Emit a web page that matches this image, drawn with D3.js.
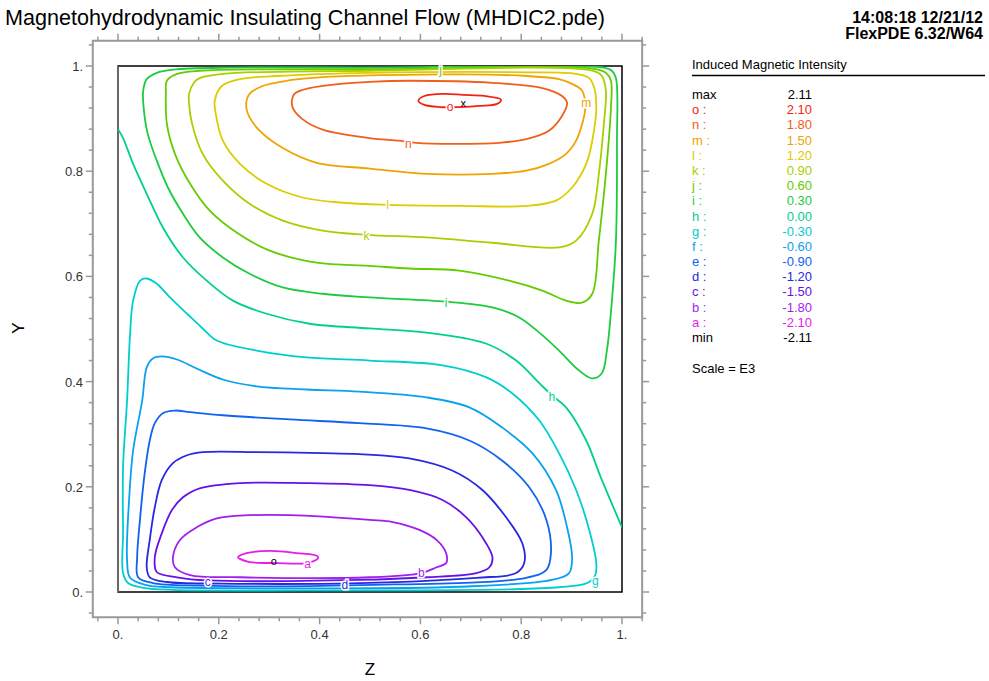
<!DOCTYPE html>
<html>
<head>
<meta charset="utf-8">
<script src="https://cdn.jsdelivr.net/npm/d3@7"></script>
<style>
body { margin: 0; background: #fff; }
svg { display: block; font-family: "Liberation Sans", Arial, sans-serif; }
</style>
</head>
<body>
<svg id="svg1" width="989" height="681"></svg>
<script>
// contour levels (values x 1E3)
var levelNames = ['a','b','c','d','e','f','g','h','i','j','k','l','m','n','o'];
var levelValues = [-2.10,-1.80,-1.50,-1.20,-0.90,-0.60,-0.30,0.00,0.30,0.60,0.90,1.20,1.50,1.80,2.10];

// contour lines, [z, y]
var lineO = [[0.596,0.934],[0.608,0.943],[0.648,0.947],[0.685,0.945],[0.727,0.943],[0.760,0.936],[0.752,0.928],[0.717,0.924],[0.677,0.922],[0.638,0.922],[0.608,0.926]];
var lineN = [[0.345,0.934],[0.350,0.947],[0.380,0.958],[0.440,0.966],[0.499,0.970],[0.578,0.972],[0.743,0.968],[0.842,0.958],[0.881,0.943],[0.891,0.930],[0.881,0.905],[0.855,0.877],[0.810,0.861],[0.756,0.854],[0.663,0.852],[0.592,0.854],[0.558,0.858],[0.499,0.863],[0.406,0.879],[0.366,0.899],[0.347,0.920]];
var lineM = [[0.255,0.934],[0.261,0.947],[0.287,0.962],[0.341,0.973],[0.406,0.979],[0.499,0.982],[0.677,0.984],[0.810,0.981],[0.875,0.975],[0.901,0.966],[0.921,0.953],[0.927,0.920],[0.921,0.890],[0.909,0.858],[0.889,0.833],[0.855,0.814],[0.810,0.801],[0.743,0.795],[0.612,0.795],[0.499,0.805],[0.394,0.816],[0.327,0.844],[0.281,0.877],[0.257,0.911]];
var lineL = [[0.192,0.934],[0.206,0.962],[0.242,0.975],[0.315,0.981],[0.499,0.987],[0.810,0.988],[0.909,0.985],[0.935,0.977],[0.945,0.958],[0.949,0.920],[0.941,0.858],[0.929,0.814],[0.901,0.769],[0.869,0.744],[0.810,0.734],[0.677,0.734],[0.535,0.736],[0.446,0.740],[0.366,0.750],[0.295,0.776],[0.242,0.814],[0.208,0.858],[0.194,0.909]];
var lineK = [[0.141,0.947],[0.152,0.970],[0.162,0.977],[0.208,0.985],[0.499,0.991],[0.941,0.991],[0.960,0.981],[0.968,0.953],[0.964,0.890],[0.954,0.795],[0.941,0.719],[0.909,0.668],[0.875,0.655],[0.743,0.664],[0.612,0.674],[0.493,0.679],[0.406,0.687],[0.327,0.706],[0.261,0.738],[0.208,0.782],[0.168,0.833],[0.147,0.890],[0.141,0.928]];
var lineJ = [[0.095,0.947],[0.097,0.972],[0.117,0.985],[0.162,0.991],[0.499,0.994],[0.941,0.995],[0.968,0.987],[0.978,0.972],[0.978,0.920],[0.968,0.795],[0.954,0.668],[0.941,0.567],[0.921,0.550],[0.889,0.554],[0.842,0.573],[0.776,0.592],[0.677,0.611],[0.578,0.615],[0.499,0.620],[0.394,0.626],[0.301,0.649],[0.236,0.683],[0.182,0.725],[0.143,0.776],[0.113,0.833],[0.097,0.890]];
var lineI = [[0.050,0.953],[0.057,0.975],[0.077,0.987],[0.109,0.993],[0.222,0.997],[0.499,0.997],[0.964,0.997],[0.980,0.991],[0.988,0.977],[0.990,0.858],[0.988,0.668],[0.980,0.554],[0.970,0.459],[0.960,0.416],[0.941,0.406],[0.915,0.421],[0.875,0.459],[0.836,0.493],[0.796,0.522],[0.743,0.541],[0.651,0.552],[0.499,0.560],[0.406,0.567],[0.327,0.579],[0.261,0.605],[0.208,0.636],[0.162,0.674],[0.129,0.719],[0.099,0.769],[0.077,0.820],[0.059,0.871],[0.051,0.920]];
var lineH = [[0.000,0.880],[0.010,0.863],[0.030,0.814],[0.057,0.757],[0.089,0.693],[0.129,0.636],[0.176,0.592],[0.228,0.554],[0.295,0.529],[0.380,0.510],[0.499,0.501],[0.612,0.493],[0.731,0.472],[0.790,0.440],[0.836,0.397],[0.861,0.374],[0.889,0.351],[0.929,0.288],[0.960,0.213],[1.000,0.123]];
var lineG = [[0.050,0.008],[0.020,0.017],[0.010,0.036],[0.010,0.112],[0.010,0.237],[0.018,0.364],[0.024,0.491],[0.030,0.554],[0.044,0.592],[0.057,0.596],[0.077,0.586],[0.103,0.560],[0.137,0.529],[0.168,0.501],[0.196,0.478],[0.275,0.459],[0.374,0.446],[0.499,0.440],[0.644,0.431],[0.731,0.408],[0.782,0.378],[0.836,0.326],[0.875,0.264],[0.909,0.194],[0.935,0.118],[0.949,0.055],[0.947,0.032],[0.931,0.017],[0.875,0.009],[0.776,0.005],[0.360,0.003],[0.109,0.004]];
var lineF = [[0.057,0.013],[0.024,0.027],[0.018,0.061],[0.022,0.175],[0.030,0.269],[0.048,0.364],[0.057,0.427],[0.069,0.444],[0.087,0.448],[0.117,0.442],[0.156,0.425],[0.208,0.404],[0.275,0.391],[0.374,0.385],[0.479,0.381],[0.612,0.370],[0.697,0.351],[0.762,0.313],[0.822,0.264],[0.869,0.194],[0.891,0.123],[0.901,0.066],[0.895,0.036],[0.861,0.023],[0.677,0.010],[0.360,0.007],[0.103,0.009]];
var lineE = [[0.069,0.017],[0.040,0.028],[0.038,0.066],[0.044,0.142],[0.053,0.226],[0.063,0.288],[0.073,0.321],[0.089,0.340],[0.113,0.345],[0.143,0.342],[0.208,0.336],[0.341,0.328],[0.479,0.321],[0.612,0.311],[0.697,0.288],[0.762,0.250],[0.816,0.199],[0.850,0.137],[0.859,0.074],[0.850,0.042],[0.810,0.027],[0.479,0.013],[0.162,0.012]];
var lineD = [[0.097,0.019],[0.063,0.028],[0.057,0.047],[0.063,0.099],[0.073,0.161],[0.087,0.213],[0.109,0.245],[0.137,0.260],[0.168,0.266],[0.275,0.266],[0.406,0.264],[0.479,0.262],[0.578,0.254],[0.663,0.231],[0.723,0.194],[0.770,0.142],[0.802,0.093],[0.806,0.055],[0.790,0.036],[0.711,0.027],[0.479,0.017],[0.202,0.016]];
var lineC = [[0.117,0.028],[0.077,0.038],[0.073,0.066],[0.087,0.112],[0.107,0.156],[0.129,0.180],[0.162,0.197],[0.242,0.207],[0.374,0.207],[0.499,0.203],[0.578,0.194],[0.644,0.175],[0.691,0.142],[0.723,0.104],[0.743,0.066],[0.737,0.047],[0.711,0.036],[0.612,0.028],[0.479,0.023],[0.178,0.022]];
var lineB = [[0.109,0.066],[0.113,0.047],[0.143,0.032],[0.242,0.028],[0.499,0.028],[0.602,0.036],[0.632,0.047],[0.651,0.055],[0.651,0.074],[0.632,0.099],[0.598,0.118],[0.545,0.133],[0.499,0.137],[0.341,0.146],[0.261,0.146],[0.196,0.140],[0.156,0.123],[0.123,0.099]];
var lineA = [[0.238,0.066],[0.255,0.074],[0.301,0.078],[0.354,0.074],[0.396,0.068],[0.396,0.063],[0.374,0.055],[0.315,0.055],[0.261,0.057],[0.242,0.063]];

// where the level letters sit on the lines
var labelNames = ['o','n','m','l','k','j','i','h','g','d','c','b','a'];
var labelPos = [[0.659,0.922],[0.576,0.852],[0.929,0.930],[0.535,0.736],[0.493,0.677],[0.640,0.993],[0.651,0.550],[0.861,0.372],[0.947,0.021],[0.450,0.014],[0.178,0.020],[0.602,0.036],[0.376,0.053]];
var maxPoint = [0.685, 0.930];
var minPoint = [0.309, 0.059];

var tickLabels = ['0.','0.2','0.4','0.6','0.8','1.'];
var tickValues = [0, 0.2, 0.4, 0.6, 0.8, 1.0];

var legendNames = ['max','o :','n :','m :','l :','k :','j :','i :','h :','g :','f :','e :','d :','c :','b :','a :','min'];
var legendValues = ['2.11','2.10','1.80','1.50','1.20','0.90','0.60','0.30','0.00','-0.30','-0.60','-0.90','-1.20','-1.50','-1.80','-2.10','-2.11'];

var contourLines = [
    {name:'a', pts:lineA, closed:true}, {name:'b', pts:lineB, closed:true},
    {name:'c', pts:lineC, closed:true}, {name:'d', pts:lineD, closed:true},
    {name:'e', pts:lineE, closed:true}, {name:'f', pts:lineF, closed:true},
    {name:'g', pts:lineG, closed:true}, {name:'h', pts:lineH, closed:false},
    {name:'i', pts:lineI, closed:true}, {name:'j', pts:lineJ, closed:true},
    {name:'k', pts:lineK, closed:true}, {name:'l', pts:lineL, closed:true},
    {name:'m', pts:lineM, closed:true}, {name:'n', pts:lineN, closed:true},
    {name:'o', pts:lineO, closed:true}
];

var color = d3.scaleOrdinal()
    .domain(levelNames)
    .range(['#e81ce8','#a01ef0','#6612e6','#2828e0','#1062f0','#08a2f0','#00cece',
            '#00d08c','#1ccc40','#64cc00','#a8d000','#dccc00','#f0a400','#f0601a','#f02414']);

var svg = d3.select('svg');

var x = d3.scaleLinear().domain([0, 1]).range([118, 622]);   // Z
var y = d3.scaleLinear().domain([0, 1]).range([592, 66]);    // Y

// outer frame runs a bit past the data box
var fx0 = x(-0.05), fx1 = x(1.04), fy0 = y(1.048), fy1 = y(-0.048);

svg.append('rect')
    .attr('x', fx0).attr('y', fy0)
    .attr('width', fx1 - fx0).attr('height', fy1 - fy0)
    .attr('fill', 'none').attr('stroke', '#999').attr('stroke-width', 2);

var ticks = d3.range(-1, 27).map(function(i){ return +(i * 0.04).toFixed(2); });
function isMajor(v){ return v >= 0 && v <= 1 && Math.abs(v / 0.2 - Math.round(v / 0.2)) < 1e-6; }

var tickG = svg.append('g').attr('stroke', '#999').attr('stroke-width', 1.5);
ticks.forEach(function(v){
    var len = isMajor(v) ? 7 : 4;
    if (v <= 1.04) {
        tickG.append('line').attr('x1', x(v)).attr('x2', x(v)).attr('y1', fy0).attr('y2', fy0 - len);
        tickG.append('line').attr('x1', x(v)).attr('x2', x(v)).attr('y1', fy1).attr('y2', fy1 + len);
    }
    tickG.append('line').attr('y1', y(v)).attr('y2', y(v)).attr('x1', fx0).attr('x2', fx0 - len);
    tickG.append('line').attr('y1', y(v)).attr('y2', y(v)).attr('x1', fx1).attr('x2', fx1 + len);
});

svg.append('g').selectAll('text')
    .data(tickValues).enter().append('text')
    .attr('x', function(d){ return x(d); })
    .attr('y', 639)
    .attr('text-anchor', 'middle')
    .attr('font-size', 13).attr('fill', '#333')
    .text(function(d, i){ return tickLabels[i]; });

svg.append('g').selectAll('text')
    .data(tickValues).enter().append('text')
    .attr('x', 83)
    .attr('y', function(d){ return y(d) + 5; })
    .attr('text-anchor', 'end')
    .attr('font-size', 13).attr('fill', '#333')
    .text(function(d, i){ return tickLabels[i]; });

svg.append('text').attr('x', 370).attr('y', 675).attr('text-anchor', 'middle')
    .attr('font-size', 17).text('Z');
svg.append('text').attr('transform', 'translate(24,328) rotate(-90)').attr('text-anchor', 'middle')
    .attr('font-size', 17).text('Y');

// data box
svg.append('rect')
    .attr('x', x(0)).attr('y', y(1))
    .attr('width', x(1) - x(0)).attr('height', y(0) - y(1))
    .attr('fill', '#fff').attr('stroke', '#000').attr('stroke-width', 1.5);
svg.append('line').attr('x1', x(0)).attr('x2', x(0)).attr('y1', y(1)).attr('y2', y(0))
    .attr('stroke', '#777').attr('stroke-width', 1.5);

svg.append('clipPath').attr('id', 'box').append('rect')
    .attr('x', x(0)).attr('y', y(1))
    .attr('width', x(1) - x(0)).attr('height', y(0) - y(1));

var lineOpen = d3.line().x(function(d){ return x(d[0]); }).y(function(d){ return y(d[1]); })
    .curve(d3.curveCatmullRom.alpha(0.5));
var lineClosed = d3.line().x(function(d){ return x(d[0]); }).y(function(d){ return y(d[1]); })
    .curve(d3.curveCatmullRomClosed.alpha(0.5));

svg.append('g').attr('clip-path', 'url(#box)')
    .selectAll('path')
    .data(contourLines).enter().append('path')
    .attr('d', function(d){ return d.closed ? lineClosed(d.pts) : lineOpen(d.pts); })
    .attr('fill', 'none')
    .attr('stroke', function(d){ return color(d.name); })
    .attr('stroke-width', 1.8);

svg.append('g').selectAll('text')
    .data(labelPos).enter().append('text')
    .attr('x', function(d){ return x(d[0]); })
    .attr('y', function(d){ return y(d[1]); })
    .attr('dy', '0.35em')
    .attr('text-anchor', 'middle')
    .attr('font-size', 12)
    .attr('fill', function(d, i){ return color(labelNames[i]); })
    .attr('stroke', '#fff').attr('stroke-width', 3).attr('paint-order', 'stroke')
    .text(function(d, i){ return labelNames[i]; });

svg.append('text').attr('x', x(maxPoint[0])).attr('y', y(maxPoint[1])).attr('dy', '0.35em')
    .attr('text-anchor', 'middle').attr('font-size', 11).text('x');
svg.append('text').attr('x', x(minPoint[0])).attr('y', y(minPoint[1])).attr('dy', '0.35em')
    .attr('text-anchor', 'middle').attr('font-size', 11).text('o');

// headings
svg.append('text').attr('x', 5).attr('y', 25).attr('font-size', 21.5)
    .attr('textLength', 600).attr('lengthAdjust', 'spacingAndGlyphs')
    .text('Magnetohydrodynamic Insulating Channel Flow (MHDIC2.pde)');
svg.append('text').attr('x', 983).attr('y', 23).attr('text-anchor', 'end')
    .attr('font-size', 16).attr('font-weight', 'bold').text('14:08:18 12/21/12');
svg.append('text').attr('x', 983).attr('y', 39).attr('text-anchor', 'end')
    .attr('font-size', 16).attr('font-weight', 'bold').text('FlexPDE 6.32/W64');

// legend
svg.append('text').attr('x', 692).attr('y', 69).attr('font-size', 13).text('Induced Magnetic Intensity');
svg.append('line').attr('x1', 692).attr('x2', 985).attr('y1', 75.5).attr('y2', 75.5)
    .attr('stroke', '#000').attr('stroke-width', 1.5);

function legendColor(i){
    if (i === 0 || i === legendNames.length - 1) return '#000';
    return color(legendNames[i].charAt(0));
}
var legend = svg.append('g');
legend.selectAll('.lname')
    .data(legendNames).enter().append('text')
    .attr('class', 'lname')
    .attr('x', 692).attr('y', function(d, i){ return 99 + i * 15.19; })
    .attr('font-size', 13).attr('fill', function(d, i){ return legendColor(i); })
    .text(function(d){ return d; });
legend.selectAll('.lval')
    .data(legendValues).enter().append('text')
    .attr('class', 'lval')
    .attr('x', 812).attr('y', function(d, i){ return 99 + i * 15.19; })
    .attr('text-anchor', 'end')
    .attr('font-size', 13).attr('fill', function(d, i){ return legendColor(i); })
    .text(function(d){ return d; });
svg.append('text').attr('x', 692).attr('y', 373).attr('font-size', 13).text('Scale = E3');
</script>
</body>
</html>
